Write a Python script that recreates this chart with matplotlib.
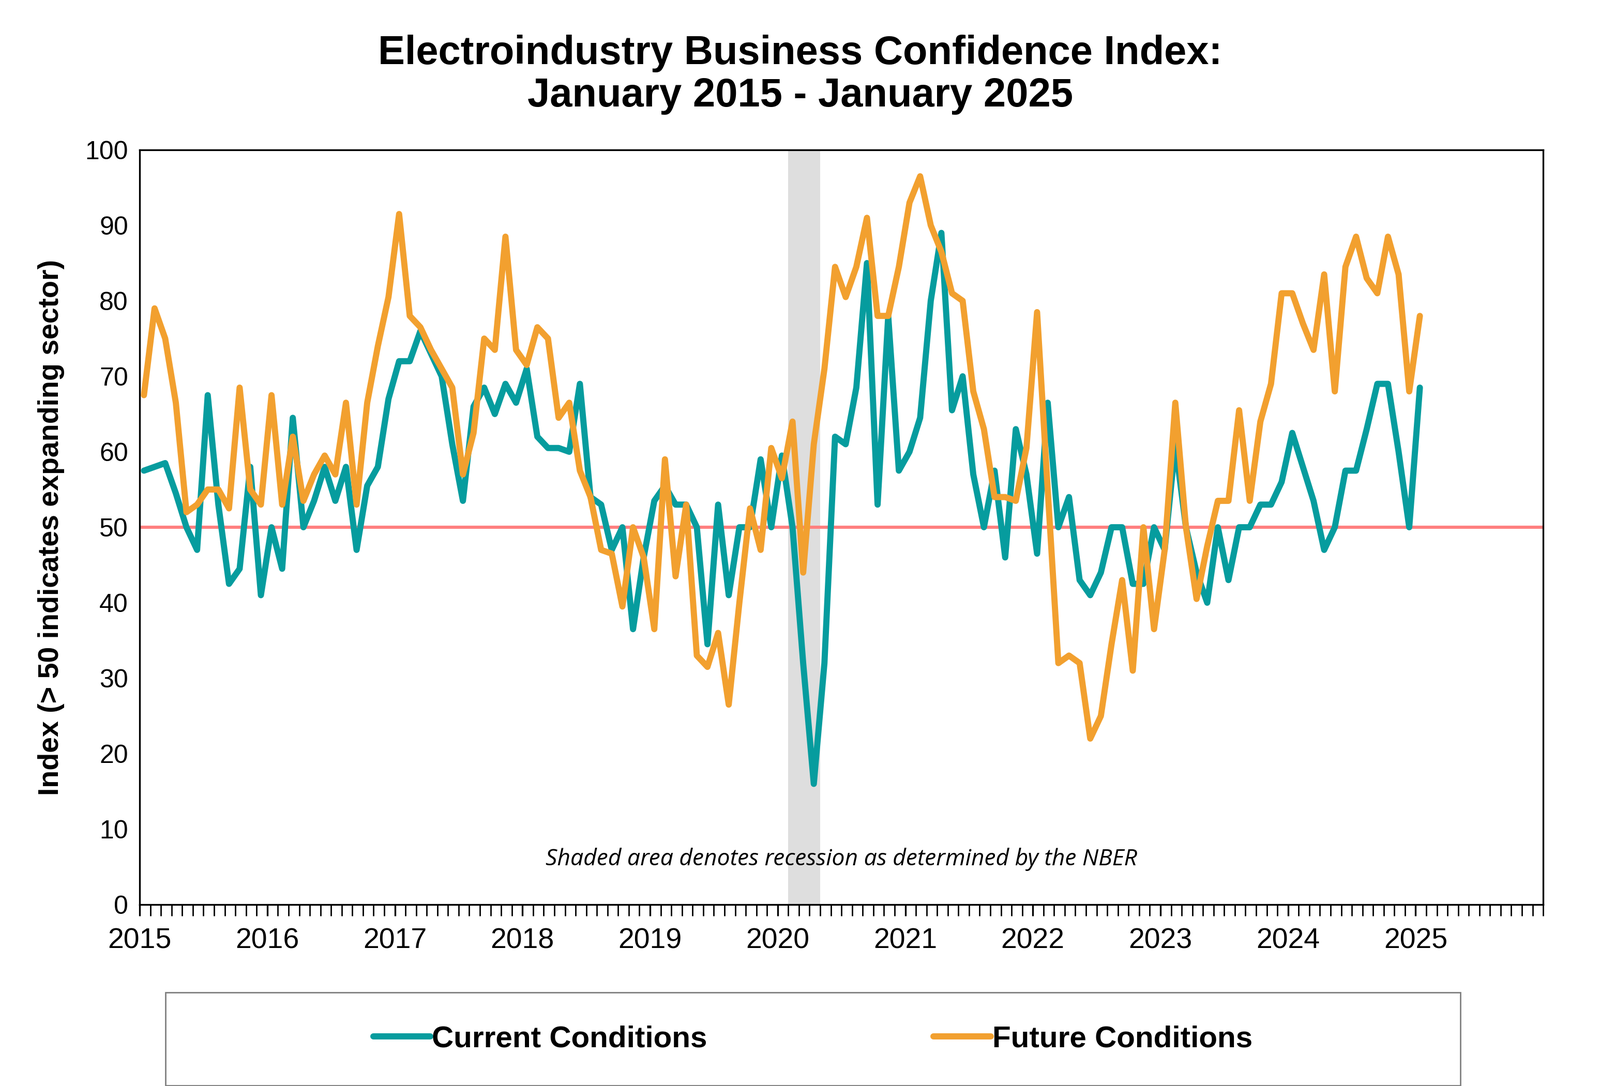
import matplotlib
matplotlib.use("Agg")
import matplotlib.pyplot as plt
import numpy as np
from matplotlib.patches import Rectangle

years = [str(y) for y in range(2015, 2026)]
current = [57.5, 58, 58.5, 54.5, 50, 47, 67.5, 53, 42.5, 44.5, 58, 41,
           50, 44.5, 64.5, 50, 53.5, 58, 53.5, 58, 47, 55.5, 58, 67,
           72, 72, 76, 73, 70, 61, 53.5, 66, 68.5, 65, 69, 66.5,
           71, 62, 60.5, 60.5, 60, 69, 54, 53, 47, 50, 36.5, 46,
           53.5, 55.5, 53, 53, 50, 34.5, 53, 41, 50, 50, 59, 50,
           59.5, 50, 32, 16, 32, 62, 61, 68.5, 85, 53, 78, 57.5,
           60, 64.5, 80, 89, 65.5, 70, 57, 50, 57.5, 46, 63, 57,
           46.5, 66.5, 50, 54, 43, 41, 44, 50, 50, 42.5, 42.5, 50,
           47, 61, 50, 44, 40, 50, 43, 50, 50, 53, 53, 56,
           62.5, 58, 53.5, 47, 50, 57.5, 57.5, 63, 69, 69, 60, 50,
           68.5]
future = [67.5, 79, 75, 66.5, 52, 53, 55, 55, 52.5, 68.5, 55, 53,
          67.5, 53, 62, 53.5, 57, 59.5, 57, 66.5, 53, 66.5, 74, 80.5,
          91.5, 78, 76.5, 73.5, 71, 68.5, 57, 62.5, 75, 73.5, 88.5, 73.5,
          71.5, 76.5, 75, 64.5, 66.5, 57.5, 54, 47, 46.5, 39.5, 50, 46,
          36.5, 59, 43.5, 53, 33, 31.5, 36, 26.5, 40, 52.5, 47, 60.5,
          56.5, 64, 44, 61, 71, 84.5, 80.5, 84.5, 91, 78, 78, 84.5,
          93, 96.5, 90, 86.5, 81, 80, 68, 63, 54, 54, 53.5, 60.5,
          78.5, 55, 32, 33, 32, 22, 25, 34.5, 43, 31, 50, 36.5,
          47, 66.5, 50, 40.5, 47.5, 53.5, 53.5, 65.5, 53.5, 64, 69, 81,
          81, 77, 73.5, 83.5, 68, 84.5, 88.5, 83, 81, 88.5, 83.5, 68,
          78]
threshold = 50
recession_start, recession_end = 61, 64  # month index (Feb 2020 - Apr 2020)

TEAL = "#069C9E"
ORANGE = "#F2A02F"

fig = plt.figure(figsize=(15.47, 10.505), dpi=200)
ax = fig.add_axes([0.0873, 0.167, 0.8772, 0.695])
x = np.arange(len(current)) + 0.4

ax.axvspan(recession_start, recession_end, color="#DEDEDE", zorder=0, lw=0)
ax.axhline(threshold, color="#FF7F7F", lw=2.2, zorder=1)
ax.plot(x, current, color=TEAL, lw=4.3, label="Current Conditions", zorder=3,
        solid_joinstyle="round", solid_capstyle="round")
ax.plot(x, future, color=ORANGE, lw=4.3, label="Future Conditions", zorder=4,
        solid_joinstyle="round", solid_capstyle="round")

ax.set_xlim(0, 132)
ax.set_ylim(0, 100)
ax.set_yticks(range(0, 101, 10))
ax.set_xticks(range(0, 121, 12))
ax.set_xticklabels(years, fontsize=20, fontname="Liberation Sans")
ax.set_xticks(range(0, 133), minor=True)
ax.tick_params(axis="x", which="major", length=8, width=1.2, direction="out", pad=8)
ax.tick_params(axis="x", which="minor", length=8, width=1.0, direction="out")
ax.tick_params(axis="y", length=0, pad=8)
for lab in ax.get_yticklabels():
    lab.set_fontsize(18)
    lab.set_fontname("Liberation Sans")
for s in ax.spines.values():
    s.set_linewidth(1.2)
ax.set_ylabel("Index (> 50 indicates expanding sector)", fontsize=20, fontweight="bold",
              fontname="Liberation Sans", labelpad=14)
ax.text(66, 6, "Shaded area denotes recession as determined by the NBER", fontsize=16,
        style="italic", fontname="Open Sans", ha="center", va="center")

fig.suptitle("Electroindustry Business Confidence Index:\nJanuary 2015 - January 2025",
             fontsize=28, fontweight="bold", fontname="Liberation Sans", y=0.968, linespacing=1.15)

fig.patches.append(Rectangle((0.1034, 0.0005), 0.8093, 0.0857, transform=fig.transFigure,
                             fill=False, edgecolor="#808080", lw=1.0))
leg = fig.legend(loc="center", bbox_to_anchor=(0.508, 0.043), ncol=2, frameon=False,
                 prop={"family": "Liberation Sans", "weight": "bold", "size": 21},
                 handlelength=1.9, handletextpad=0.05, columnspacing=7.5)
for l in leg.get_lines():
    l.set_linewidth(4.3)

fig.savefig("out.png", dpi=200)
